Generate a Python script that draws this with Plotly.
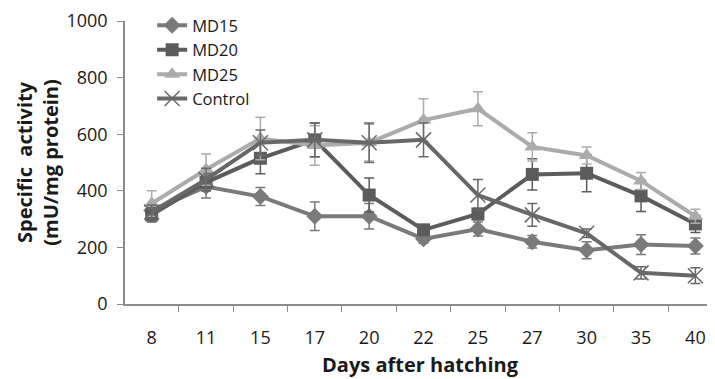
import plotly.graph_objects as go

days = ["8", "11", "15", "17", "20", "22", "25", "27", "30", "35", "40"]

md15 = [330, 415, 380, 310, 310, 230, 265, 220, 190, 210, 205]
md15_err = [20, 40, 32, 50, 45, 15, 25, 22, 30, 35, 28]

md20 = [315, 430, 515, 580, 385, 262, 318, 458, 462, 382, 283]
md20_err = [25, 30, 55, 60, 60, 15, 20, 55, 65, 55, 30]

md25 = [355, 475, 585, 560, 570, 650, 690, 555, 525, 435, 310]
md25_err = [45, 55, 75, 70, 65, 75, 60, 50, 30, 30, 25]

control = [325, 440, 570, 580, 570, 580, 385, 315, 250, 110, 100]
control_err = [25, 40, 45, 60, 70, 60, 55, 40, 15, 22, 28]

series = [
    ("MD15", md15, md15_err, "#7a7a7a", dict(symbol="diamond", size=13)),
    ("MD20", md20, md20_err, "#5c5c5c", dict(symbol="square", size=13)),
    ("MD25", md25, md25_err, "#ababab", dict(symbol="triangle-up", size=14)),
    ("Control", control, control_err, "#686868", dict(symbol="x-thin-open", size=15)),
]

fig = go.Figure()
for name, vals, errs, color, mk in series:
    marker = dict(color=color, **mk)
    if mk["symbol"] == "x-thin-open":
        marker["line"] = dict(width=1.5, color=color)
    fig.add_trace(go.Scatter(
        x=days, y=vals, name=name, mode="lines+markers",
        line=dict(color=color, width=4),
        marker=marker,
        error_y=dict(type="data", array=errs, visible=True, color=color, thickness=1.5, width=5),
    ))

# page body has an 8px default margin, so the figure is 8px smaller than the window
fig.update_layout(
    width=707, height=371,
    margin=dict(l=117, r=0, t=13, b=75),
    paper_bgcolor="white", plot_bgcolor="white",
    font=dict(family="Open Sans, sans-serif", size=18, color="#1a1a1a"),
    showlegend=True,
    legend=dict(x=0.046, y=1.046, xanchor="left", yanchor="top",
                bgcolor="rgba(0,0,0,0)", font=dict(size=16.5), tracegroupgap=0),
)

fig.update_xaxes(
    type="category", range=[-0.49, 10.36],
    showline=True, linecolor="#8c8c8c", linewidth=1.5,
    ticks="outside", tickson="boundaries", ticklen=6, tickcolor="#8c8c8c",
    showgrid=False, zeroline=False,
    tickfont=dict(size=18), ticklabelstandoff=17,
    title=dict(text="<b>Days after hatching</b>", font=dict(size=20), standoff=10),
)
fig.update_yaxes(
    range=[0, 1000], tickvals=[0, 200, 400, 600, 800, 1000],
    showline=True, linecolor="#8c8c8c", linewidth=1.5,
    ticks="outside", ticklen=6, tickcolor="#8c8c8c",
    showgrid=False, zeroline=False,
    tickfont=dict(size=18), ticklabelstandoff=6,
    title=dict(text="<b>Specific  activity<br>(mU/mg protein)</b>", font=dict(size=20), standoff=2),
)

fig.write_html("out.html")
